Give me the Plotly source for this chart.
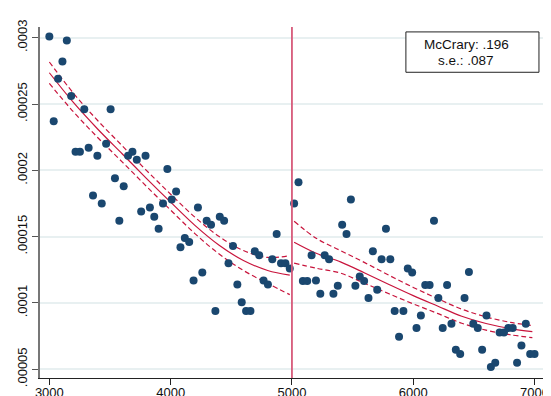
import plotly.graph_objects as go

# ---- data: binned density (bin midpoints and heights) ----
bin_x = [3000, 3036, 3072, 3108, 3144, 3180, 3216, 3252, 3288, 3324,
         3360, 3396, 3432, 3468, 3505, 3541, 3577, 3613, 3649, 3685,
         3721, 3757, 3793, 3829, 3865, 3901, 3937, 3973, 4009, 4045,
         4081, 4117, 4153, 4189, 4225, 4261, 4297, 4333, 4369, 4405,
         4441, 4477, 4514, 4550, 4586, 4622, 4658, 4694, 4730, 4766,
         4802, 4838, 4874, 4910, 4946, 4982,
         5018, 5054, 5090, 5126, 5162, 5198, 5234, 5270, 5306, 5342,
         5378, 5414, 5450, 5486, 5523, 5559, 5595, 5631, 5667, 5703,
         5739, 5775, 5811, 5847, 5883, 5919, 5955, 5991, 6027, 6063,
         6099, 6135, 6171, 6207, 6243, 6279, 6315, 6351, 6387, 6423,
         6459, 6495, 6532, 6568, 6604, 6640, 6676, 6712, 6748, 6784,
         6820, 6856, 6892, 6928, 6964, 7000]

bin_density = [
    0.000301, 0.000237, 0.000269, 0.000282, 0.000298, 0.000256, 0.000214, 0.000214, 0.000246, 0.000217,
    0.000181, 0.000211, 0.000175, 0.000220, 0.000246, 0.000194, 0.000162, 0.000188, 0.000211, 0.000214,
    0.000208, 0.000169, 0.000211, 0.000172, 0.000165, 0.000156, 0.000175, 0.000201, 0.000178, 0.000184,
    0.000142, 0.000149, 0.000146, 0.000117, 0.000172, 0.000123, 0.000162, 0.000159, 0.0000939, 0.000165,
    0.000162, 0.000130, 0.000143, 0.000114, 0.0001005, 0.0000939, 0.0000939, 0.000139, 0.000136, 0.000117,
    0.000114, 0.000133, 0.000152, 0.000130, 0.000130, 0.000126,
    0.000175, 0.000191, 0.0001165, 0.0001165, 0.000136, 0.000117, 0.000107, 0.000136, 0.000133, 0.000107,
    0.000113, 0.000159, 0.000152, 0.000178, 0.000113, 0.000120, 0.0001165, 0.0001037, 0.000139, 0.000110,
    0.000133, 0.000156, 0.000133, 0.0000939, 0.0000745, 0.0000939, 0.000126, 0.000123, 0.0000811, 0.0000906,
    0.0001135, 0.0001135, 0.000162, 0.0001037, 0.0000811, 0.0001135, 0.0000843, 0.0000647, 0.0000615, 0.0001037,
    0.0001233, 0.0000843, 0.0000811, 0.0000647, 0.0000906, 0.0000517, 0.0000549, 0.0000778, 0.0000778, 0.0000811,
    0.0000811, 0.0000549, 0.000068, 0.0000843, 0.0000615, 0.0000615]

# ---- local linear fits and CI half-widths ----
left_x = [3000, 3200, 3400, 3600, 3800, 4000, 4200, 4400, 4600, 4800, 4982]
left_fit = [2.736e-4, 2.51e-4, 2.31e-4, 2.125e-4, 1.94e-4, 1.76e-4, 1.585e-4, 1.435e-4, 1.32e-4, 1.245e-4, 1.21e-4]
left_hw = [8.1e-6, 7.0e-6, 6.4e-6, 6.1e-6, 6.0e-6, 6.0e-6, 6.2e-6, 6.6e-6, 7.5e-6, 9.8e-6, 1.47e-5]

right_x = [5018, 5200, 5400, 5600, 5800, 6000, 6200, 6400, 6600, 6800, 6982]
right_fit = [1.458e-4, 1.375e-4, 1.31e-4, 1.226e-4, 1.139e-4, 1.055e-4, 9.77e-5, 9.0e-5, 8.45e-5, 8.07e-5, 7.84e-5]
right_hw = [1.58e-5, 1.13e-5, 8.5e-6, 7.8e-6, 7.0e-6, 6.2e-6, 5.6e-6, 5.3e-6, 5.0e-6, 4.7e-6, 4.6e-6]

cutoff = 5000
x_ticks = [3000, 4000, 5000, 6000, 7000]
x_ticklabels = ["3000", "4000", "5000", "6000", "7000"]
y_ticks = [0.00005, 0.0001, 0.00015, 0.0002, 0.00025, 0.0003]
y_ticklabels = [".00005", ".0001", ".00015", ".0002", ".00025", ".0003"]
legend_lines = ["McCrary: .196", "s.e.: .087"]

FONT = "Liberation Sans, Arial, sans-serif"
NAVY = "#1a476f"
RED = "#c8143c"

fig = go.Figure()

for xs, fit, hw in [(left_x, left_fit, left_hw), (right_x, right_fit, right_hw)]:
    upper = [f + h for f, h in zip(fit, hw)]
    lower = [f - h for f, h in zip(fit, hw)]
    for ys, dash in [(upper, "5px,3px"), (lower, "5px,3px"), (fit, "solid")]:
        fig.add_trace(go.Scatter(x=xs, y=ys, mode="lines",
                                 line=dict(color=RED, width=1.2, dash=dash,
                                           shape="spline", smoothing=1.0),
                                 hoverinfo="skip", showlegend=False))

fig.add_trace(go.Scatter(x=bin_x, y=bin_density, mode="markers",
                         marker=dict(color=NAVY, size=8, line=dict(width=0)),
                         showlegend=False))

fig.add_shape(type="line", xref="x", yref="paper", x0=cutoff, x1=cutoff, y0=0, y1=1,
              line=dict(color="#d75a7a", width=1.8), layer="above")

# legend box
fig.add_shape(type="rect", xref="paper", yref="paper", x0=0.726, x1=0.990, y0=0.871, y1=0.986,
              line=dict(color="#222222", width=1), fillcolor="white", layer="above")
fig.add_annotation(text=legend_lines[0], xref="paper", yref="paper", x=0.847, y=0.950,
                   xanchor="center", yanchor="middle", showarrow=False,
                   font=dict(family=FONT, size=13.5, color="#111111"))
fig.add_annotation(text=legend_lines[1], xref="paper", yref="paper", x=0.846, y=0.905,
                   xanchor="center", yanchor="middle", showarrow=False,
                   font=dict(family=FONT, size=13.5, color="#111111"))

# page body adds an 8px offset; figure is sized/margined to compensate
fig.update_layout(
    width=543, height=388,
    margin=dict(l=32, r=7, t=19, b=18),
    paper_bgcolor="white", plot_bgcolor="white",
    font=dict(family=FONT, size=13, color="#111111"),
    showlegend=False,
    xaxis=dict(range=[2923, 7078], tickvals=x_ticks, ticktext=x_ticklabels,
               showgrid=False, zeroline=False, showline=True, linecolor="#222222", linewidth=1.3,
               ticks="outside", ticklen=6, tickcolor="#222222", automargin=False,
               ticklabelstandoff=-4, tickfont=dict(size=13)),
    yaxis=dict(range=[4.34e-5, 3.081e-4], tickvals=y_ticks, ticktext=y_ticklabels,
               showgrid=True, gridcolor="#e8f0f1", gridwidth=1.5, zeroline=False,
               showline=True, linecolor="#777777", linewidth=1.5,
               ticks="outside", ticklen=6, tickcolor="#555555", tickangle=-90,
               automargin=False, tickfont=dict(size=13)),
)

fig.write_html("out.html")
